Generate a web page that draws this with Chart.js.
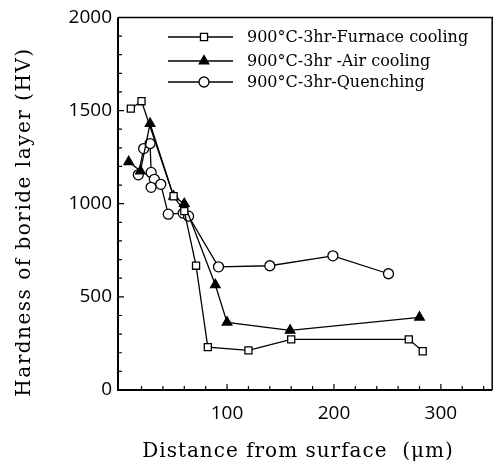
<!DOCTYPE html>
<html>
<head>
<meta charset="utf-8">
<script src="https://cdn.jsdelivr.net/npm/chart.js@4/dist/chart.umd.min.js"></script>
<style>
html,body{margin:0;padding:0;background:#fff;}
#wrap{width:499px;height:472px;position:relative;}
</style>
</head>
<body>
<div id="wrap"><canvas id="c" width="499" height="472"></canvas></div>
<script>
// ---- data ----
const seriesLabels = ["900°C-3hr-Furnace cooling", "900°C-3hr -Air cooling", "900°C-3hr-Quenching"];
const furnaceX = [10, 20, 50, 60, 71, 82, 120, 160, 270, 283];
const furnaceY = [1510, 1550, 1040, 960, 667, 230, 213, 272, 272, 208];
const airX = [8, 19, 28, 50, 60, 89, 100, 159, 280];
const airY = [1225, 1175, 1430, 1040, 1000, 565, 363, 320, 390];
const quenchX = [17, 22, 28, 29, 32, 29, 38, 45, 59, 64, 92, 140, 199, 251];
const quenchY = [1155, 1296, 1323, 1168, 1131, 1088, 1104, 944, 949, 933, 661, 667, 720, 624];
const xTickValues = [100, 200, 300];
const yTickValues = [0, 500, 1000, 1500, 2000];
const xTitle = "Distance from surface  (\u03bcm)";
const yTitle = "Hardness of boride layer (HV)";

function pts(xs, ys){ return xs.map((x,i)=>({x:x, y:ys[i]})); }

const frameTicks = {
  id:'frameTicks',
  afterDatasetsDraw(chart){
    const ctx = chart.ctx, a = chart.chartArea;
    const xs = chart.scales.x, ys = chart.scales.y;
    ctx.save();
    ctx.strokeStyle = '#000';
    ctx.lineWidth = 1.5;
    ctx.beginPath();
    ctx.moveTo(a.left, a.top); ctx.lineTo(a.right, a.top); ctx.lineTo(a.right, a.bottom);
    ctx.stroke();
    ctx.lineWidth = 2;
    ctx.beginPath();
    ctx.moveTo(a.left, a.top); ctx.lineTo(a.left, a.bottom); ctx.lineTo(a.right, a.bottom);
    ctx.stroke();
    ctx.lineWidth = 1.2;
    ctx.beginPath();
    for (let v = 20; v < xs.max; v += 20) {
      const px = xs.getPixelForValue(v);
      const len = (v % 100 === 0) ? 6 : 4;
      ctx.moveTo(px, a.bottom); ctx.lineTo(px, a.bottom - len);
    }
    for (let v = 100; v < ys.max; v += 100) {
      const py = ys.getPixelForValue(v);
      const len = (v % 500 === 0) ? 6 : 4;
      ctx.moveTo(a.left, py); ctx.lineTo(a.left + len, py);
    }
    ctx.stroke();
    // legend
    const rows = [37, 61, 82];
    chart.data.datasets.forEach((ds, i) => {
      const y = rows[i];
      ctx.strokeStyle = '#000';
      ctx.lineWidth = 1.3;
      ctx.beginPath(); ctx.moveTo(168, y); ctx.lineTo(233, y); ctx.stroke();
      ctx.fillStyle = ds.pointBackgroundColor;
      ctx.strokeStyle = '#000';
      ctx.lineWidth = ds.pointBorderWidth;
      Chart.helpers.drawPoint(ctx, {
        pointStyle: ds.pointStyle, radius: ds.pointRadius, rotation: 0,
        borderWidth: ds.pointBorderWidth
      }, 204, y);
      ctx.fillStyle = '#000';
      ctx.font = '16px "DejaVu Serif"';
      ctx.textBaseline = 'middle';
      ctx.textAlign = 'left';
      ctx.fillText(ds.label, 247, y + 1);
    });
    // axis titles
    ctx.fillStyle = '#000';
    ctx.font = '20px "DejaVu Serif"';
    ctx.textBaseline = 'middle';
    ctx.textAlign = 'center';
    ctx.letterSpacing = '1px';
    ctx.fillText(xTitle, 298, 452);
    ctx.save();
    ctx.translate(25, 222);
    ctx.rotate(-Math.PI / 2);
    ctx.letterSpacing = '1.5px';
    ctx.fillText(yTitle, 0, 0);
    ctx.restore();
    ctx.restore();
  }
};

function mkDs(label, data, style, fill, r){
  return {
    label: label, data: data, showLine: true,
    borderColor: '#000', borderWidth: 1.3,
    pointStyle: style, pointRadius: r, pointHoverRadius: r,
    pointBackgroundColor: fill, pointBorderColor: '#000', pointBorderWidth: 1.3,
    backgroundColor: fill
  };
}

new Chart(document.getElementById('c'), {
  type: 'scatter',
  data: {
    datasets: [
      mkDs(seriesLabels[0], pts(furnaceX, furnaceY), 'rect', '#fff', 5),
      mkDs(seriesLabels[1], pts(airX, airY), 'triangle', '#000', 5.5),
      mkDs(seriesLabels[2], pts(quenchX, quenchY), 'circle', '#fff', 5)
    ]
  },
  options: {
    responsive: false, animation: false, devicePixelRatio: 1,
    layout: { padding: { left: 0, top: 15, right: 5, bottom: 0 } },
    plugins: { legend: { display: false }, tooltip: { enabled: false } },
    scales: {
      x: {
        type: 'linear', min: -2, max: 348,
        grid: { display: false, drawTicks: false },
        border: { display: false },
        afterBuildTicks(s){ s.ticks = xTickValues.map(v=>({value:v})); },
        afterFit(s){ s.height = 82; },
        ticks: { color: '#000', padding: 12, maxRotation: 0, callback: v => String(v), font: { family: 'Open Sans', size: 19 } },
        title: { display: false }
      },
      y: {
        type: 'linear', min: 0, max: 2000,
        grid: { display: false, drawTicks: false },
        border: { display: false },
        afterBuildTicks(s){ s.ticks = yTickValues.map(v=>({value:v})); },
        afterFit(s){ s.width = 118; },
        ticks: { color: '#000', padding: 6, callback: v => String(v), font: { family: 'Open Sans', size: 19 } },
        title: { display: false }
      }
    }
  },
  plugins: [frameTicks]
});
</script>
</body>
</html>
